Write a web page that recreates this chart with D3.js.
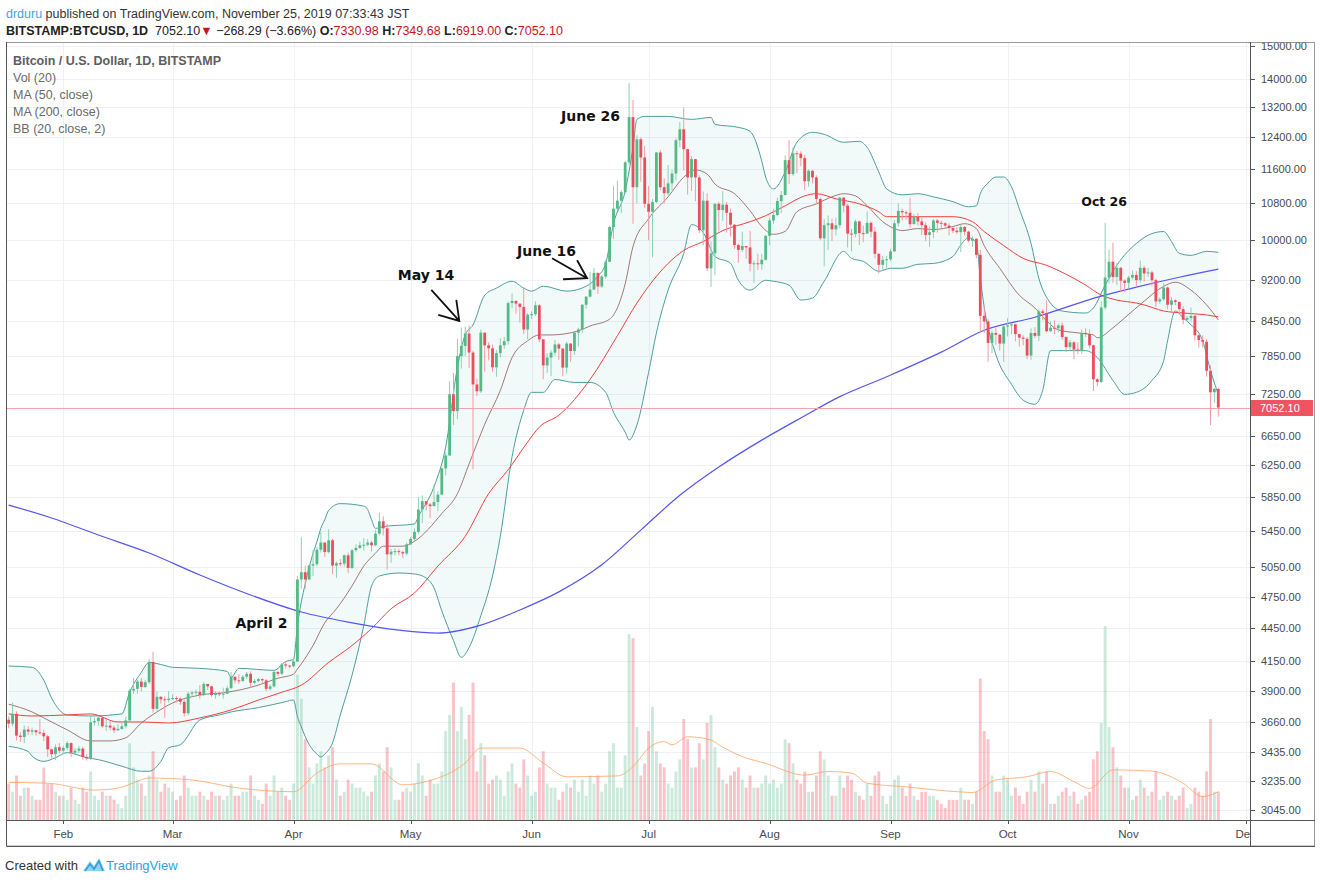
<!DOCTYPE html>
<html><head><meta charset="utf-8">
<script src="https://cdn.jsdelivr.net/npm/d3@7"></script>
<style>
body{margin:0;background:#fff;}
svg{display:block;}
text{font-family:"Liberation Sans",Arial,sans-serif;white-space:pre;}
.ann{font-family:"DejaVu Sans",Verdana,sans-serif;font-weight:bold;fill:#111;}
</style>
</head><body>
<svg id="chart" width="1320" height="883"></svg>
<script>
// ---------------- DATA ----------------
const startDate = "2019-01-18";
const opens = [
3675,3645,3720,3555,3545,3600,3585,3595,3580,3575,3550,3455,3420,3470,
3445,3465,3500,3430,3445,3460,3400,3390,3655,3665,3690,3625,3630,3615,3595,3605,3625,3670,3905,3920,3980,3935,3975,4145,3760,3855,3835,3830,
3840,3845,3840,3815,3725,3880,3890,3895,3870,3960,3940,3870,3885,3875,3880,3925,4020,3990,3985,4020,4045,3970,3985,4000,3990,3920,3940,4060,4045,4125,4115,
4110,4150,4925,5000,4925,5070,5085,5240,5320,5215,5345,5070,5095,5090,5180,5045,5235,5260,5290,5295,5320,5290,5420,5560,5480,5190,5220,5225,5215,5200,
5300,5360,5440,5700,5800,5760,5740,5790,5880,6210,6380,7250,7000,7850,8020,8230,7910,7400,7295,8245,8030,7980,7670,7900,8030,8100,8770,8810,8760,8700,8300,
8560,8570,8730,8130,7700,7826,7908,8045,7975,7665,8060,7935,8245,8300,8740,8890,9020,9340,9080,9270,9560,10280,10680,10860,11055,11765,12930,11170,12346,11885,
10790,10612,10830,12010,11170,11030,11260,11495,12321,12605,12093,11400,11845,11400,10210,10860,9430,9730,10790,10650,10770,10590,10330,9900,9800,9880,9850,9520,9530,9510,9600,
10090,10420,10540,10850,10990,11820,11480,11990,11980,11870,11310,11560,11400,10900,10040,10320,10360,10230,10320,10930,10750,10140,10130,10400,10150,10140,10370,10180,9720,9500,9600,
9610,9770,10360,10630,10600,10590,10340,10500,10400,10320,10110,10170,10420,10370,10360,10310,10260,10200,10170,10280,10180,9990,10030,9700,8540,8440,8070,8240,8210,8060,
8350,8370,8390,8220,8160,8140,7860,8240,8190,8620,8590,8270,8330,8320,8370,8170,8000,8080,7960,7950,8240,8220,8030,7480,7440,8690,9250,9560,9260,9440,9190,
9150,9250,9300,9200,9440,9330,9350,9200,8800,8840,9060,8740,8820,8790,8660,8470,8500,8540,8200,8120,8090,7615,7280,7330.98
];
const highs = [
3700,3810,3740,3580,3630,3625,3615,3600,3680,3600,3560,3460,3490,3500,
3480,3515,3505,3465,3480,3475,3420,3720,3690,3700,3700,3680,3665,3630,3640,3655,3700,3920,4010,3995,4010,3995,4170,4235,3900,3860,3860,3900,
3875,3860,3850,3830,3895,3905,3915,3950,3975,3960,3945,3900,3895,3930,3945,4060,4020,4040,4035,4060,4065,4000,4010,4005,4000,3955,4070,4070,4135,4150,4120,
4170,4960,5380,5070,5080,5240,5270,5440,5320,5470,5360,5115,5140,5190,5210,5250,5300,5330,5370,5360,5340,5460,5660,5620,5530,5250,5260,5250,5230,5320,
5380,5480,5850,5870,5800,5780,6000,5920,6220,6420,7450,7580,8140,8330,8350,8370,7940,7490,8300,8245,8080,8040,7950,8150,8170,8800,8950,8820,8760,9070,8590,
8620,8800,8750,8130,7900,7950,8120,8070,7985,8090,8060,8250,8330,8750,8890,9360,9440,9350,9300,9600,10300,11200,11320,11100,11800,13880,13400,12450,12400,12180,
11200,10900,12020,12070,11380,11700,11580,12370,12800,13200,12100,11920,11850,11450,11070,11030,9980,10800,10830,11080,10830,10680,10340,9930,10180,9880,10200,9580,9720,9720,10110,
10480,10680,10930,11080,11940,12320,12140,12050,12040,11950,11590,11570,11450,10930,10450,10530,10460,10480,10950,10950,10790,10240,10440,10420,10310,10620,10400,10280,9730,9680,9680,
9820,10430,10800,10680,10640,10920,10560,10580,10490,10380,10290,10450,10450,10420,10380,10360,10270,10280,10330,10300,10200,10080,10040,9800,8720,8480,8280,8330,8220,8380,
8500,8400,8400,8220,8200,8170,8320,8340,8660,8660,8820,8440,8460,8400,8420,8180,8120,8100,8080,8300,8320,8300,8040,7500,8800,10370,9800,9950,9530,9460,9220,
9280,9390,9380,9580,9480,9440,9380,9230,8880,9140,9080,8880,8840,8800,8710,8540,8690,8560,8220,8200,8130,7700,7350,7349.68
];
const lows = [
3610,3625,3520,3510,3500,3560,3560,3555,3560,3515,3400,3390,3380,3425,
3420,3450,3400,3415,3430,3380,3375,3380,3630,3630,3610,3590,3595,3575,3590,3600,3610,3660,3880,3880,3900,3925,3960,3730,3745,3800,3690,3810,
3830,3810,3790,3700,3710,3850,3870,3840,3860,3910,3855,3840,3860,3840,3875,3920,3965,3960,3975,4000,3930,3960,3975,3965,3900,3905,3930,4025,4035,4090,4090,
4100,4145,4830,4830,4920,4960,5060,5210,5160,5200,4980,4940,5065,5060,4990,5035,5220,5250,5230,5280,5220,5280,5400,5400,5030,5100,5180,5180,5150,5180,
5290,5340,5420,5540,5690,5600,5740,5680,5870,6120,6380,6800,6880,7650,7850,7660,6200,7220,7270,7600,7780,7600,7520,7830,7970,8040,8680,8580,8420,8220,8130,
8480,8540,8080,7480,7580,7530,7860,7790,7530,7570,7760,7870,8010,8240,8670,8870,9020,8940,9050,9230,9560,10030,10630,10580,11030,11700,10350,10800,11300,10700,
10000,9650,10800,11100,10800,10990,11100,11330,12140,11570,11000,11080,10850,10150,9900,9380,9070,9300,10190,10410,10160,10080,9820,9540,9760,9620,9370,9150,9400,9400,9580,
9900,10340,10510,10580,10980,11250,11440,11500,11670,11100,11180,11260,10800,10000,9470,9800,9980,10100,10260,10600,9850,9770,10060,9900,9960,10130,10060,9630,9330,9380,9440,
9570,9760,10290,10420,10430,10260,10340,10310,10110,9980,9860,10040,10160,10260,10270,10100,10150,10130,9760,10100,9960,9860,9630,8240,8240,7760,7900,8040,7940,7760,
8180,8220,8100,8010,8030,7800,7790,8150,8100,8460,8250,8260,8220,8250,8120,7920,7960,7800,7880,7890,8170,7980,7300,7370,7420,8650,9140,9150,9110,8980,8980,
9040,9210,9080,9150,9170,9260,9090,8700,8760,8810,8660,8610,8730,8580,8390,8450,8440,8110,7990,7990,7520,6800,7120,6919.00
];
const closes = [
3645,3720,3555,3545,3600,3585,3595,3580,3575,3550,3455,3420,3470,3445,
3465,3500,3430,3445,3460,3400,3390,3655,3665,3690,3625,3630,3615,3595,3605,3625,3670,3905,3920,3980,3935,3975,4145,3760,3855,3835,3830,3840,
3845,3840,3815,3725,3880,3890,3895,3870,3960,3940,3870,3885,3875,3880,3925,4020,3990,3985,4020,4045,3970,3985,4000,3990,3920,3940,4060,4045,4125,4115,4110,
4150,4925,5000,4925,5070,5085,5240,5320,5215,5345,5070,5095,5090,5180,5045,5235,5260,5290,5295,5320,5290,5420,5560,5480,5190,5220,5225,5215,5200,5300,
5360,5440,5700,5800,5760,5740,5790,5880,6210,6380,7250,7000,7850,8020,8230,7910,7400,7295,8245,8030,7980,7670,7900,8030,8100,8770,8810,8760,8700,8300,8560,
8570,8730,8130,7700,7826,7908,8045,7975,7665,8060,7935,8245,8300,8740,8890,9020,9340,9080,9270,9560,10280,10680,10860,11055,11765,12930,11170,12346,11885,10790,
10612,10830,12010,11170,11030,11260,11495,12321,12605,12093,11400,11845,11400,10210,10860,9430,9730,10790,10650,10770,10590,10330,9900,9800,9880,9850,9520,9530,9510,9600,10090,
10420,10540,10850,10990,11820,11480,11990,11980,11870,11310,11560,11400,10900,10040,10320,10360,10230,10320,10930,10750,10140,10130,10400,10150,10140,10370,10180,9720,9500,9600,9610,
9770,10360,10630,10600,10590,10340,10500,10400,10320,10110,10170,10420,10370,10360,10310,10260,10200,10170,10280,10180,9990,10030,9700,8540,8440,8070,8240,8210,8060,8350,
8370,8390,8220,8160,8140,7860,8240,8190,8620,8590,8270,8330,8320,8370,8170,8000,8080,7960,7950,8240,8220,8030,7480,7440,8690,9250,9560,9260,9440,9190,9150,
9250,9300,9200,9440,9330,9350,9200,8800,8840,9060,8740,8820,8790,8660,8470,8500,8540,8200,8120,8090,7615,7280,7330.98,7052.10
];
// volume, thousands of BTC
const volumes = [
9,7,11,6,8,8,6,5,5,13,9,9,7,6,
6,5,8,5,4,8,7,12,6,5,7,6,6,5,4,3,6,19,13,10,9,6,11,17,10,7,9,8,
7,5,6,11,8,6,6,7,6,5,7,6,6,5,6,9,6,6,7,7,11,6,5,4,9,6,11,7,8,6,5,
9,36,30,20,13,9,14,17,13,16,18,10,6,7,10,9,8,8,7,6,7,11,14,12,18,13,5,5,7,8,
7,9,14,11,6,10,9,9,12,22,26,34,22,28,20,26,34,12,19,16,9,10,11,10,6,12,14,9,8,15,11,
6,7,13,17,9,8,8,5,7,9,8,10,7,10,6,11,9,11,7,9,17,19,8,8,16,46,45,23,11,14,
22,28,17,14,13,9,8,12,15,25,20,13,13,19,15,24,26,18,13,10,9,11,12,13,10,8,11,8,8,9,11,
9,10,8,9,20,19,14,10,9,12,7,7,11,17,15,11,6,6,11,8,11,10,7,6,5,9,6,11,12,6,4,
6,10,11,8,6,9,6,5,7,7,6,6,5,4,3,5,5,5,8,5,5,4,7,35,22,20,11,7,7,11,
10,6,8,6,4,7,10,7,12,9,12,4,4,6,7,8,6,7,4,5,6,7,15,17,24,48,23,18,13,11,8,
8,5,6,10,8,6,7,12,5,6,7,6,5,6,8,3,4,8,7,6,12,25,7,7
];
// indicator lines: [MM-DD (2019), value]
const bbUpper = [["01-18",4111],["01-24",4100],["01-27",3991],["01-29",3845],["02-02",3712],["02-08",3704],["02-16",3720],["02-18",3892],["02-21",4057],["02-23",4142],["02-26",4124],["03-01",4100],["03-08",4091],["03-15",4065],["03-16",4015],["03-18",4091],["03-27",4074],["03-30",4150],["04-01",4168],["04-02",4470],["04-03",4700],["04-04",4880],["04-05",5050],["04-06",5200],["04-07",5330],["04-08",5480],["04-09",5580],["04-10",5690],["04-13",5770],["04-19",5740],["04-20",5700],["04-21",5580],["04-22",5480],["04-24",5500],["05-02",5530],["05-03",5618],["05-07",5978],["05-10",6495],["05-13",7666],["05-15",8206],["05-17",8379],["05-20",8916],["05-23",9048],["05-27",9179],["05-30",9048],["06-01",8991],["06-04",9085],["06-10",8991],["06-15",9085],["06-18",9276],["06-20",9527],["06-22",10351],["06-25",11084],["06-27",12140],["06-28",12869],["06-30",12950],["07-06",12950],["07-12",12869],["07-17",12923],["07-18",12736],["07-24",12657],["07-27",12552],["07-30",11796],["07-31",11410],["08-02",11131],["08-05",11529],["08-08",12269],["08-12",12527],["08-15",12474],["08-20",12269],["08-24",12294],["08-26",12140],["08-29",11529],["08-31",11131],["09-04",10993],["09-08",11020],["09-12",10947],["09-17",10839],["09-21",10723],["09-23",10746],["09-24",11020],["09-26",11270],["09-28",11410],["09-30",11410],["10-02",11178],["10-04",10679],["10-07",9933],["10-09",9237],["10-12",8770],["10-15",8626],["10-21",8590],["10-23",8681],["10-26",9106],["10-29",9493],["11-03",9933],["11-07",10140],["11-10",10183],["11-12",9974],["11-14",9729],["11-17",9689],["11-21",9770],["11-24",9750]];
const bbBasis = [["01-18",3796],["01-24",3735],["01-27",3689],["02-02",3598],["02-08",3516],["02-13",3516],["02-17",3539],["02-21",3650],["02-25",3735],["03-01",3806],["03-08",3869],["03-15",3892],["03-23",3950],["03-28",4008],["04-01",4041],["04-02",4085],["04-03",4130],["04-06",4291],["04-09",4499],["04-12",4633],["04-16",4859],["04-19",5065],["04-22",5202],["04-24",5279],["04-29",5279],["05-02",5334],["05-09",5652],["05-13",5891],["05-16",6269],["05-20",6810],["05-24",7309],["05-27",7826],["05-31",8106],["06-03",8206],["06-06",8206],["06-13",8276],["06-16",8361],["06-21",8480],["06-25",9130],["06-27",9868],["07-01",10460],["07-06",10948],["07-10",11408],["07-13",11580],["07-16",11481],["07-18",11245],["07-23",11020],["07-27",10634],["07-30",10290],["08-02",10124],["08-05",10187],["08-08",10612],["08-13",10788],["08-17",10948],["08-20",11020],["08-23",10970],["08-26",10746],["08-30",10394],["09-02",10246],["09-04",10203],["09-08",10246],["09-12",10225],["09-17",10290],["09-20",10351],["09-23",10246],["09-25",9889],["09-29",9431],["10-04",8916],["10-08",8681],["10-11",8450],["10-14",8293],["10-19",8241],["10-23",8206],["10-24",8157],["10-28",8328],["10-31",8503],["11-05",8806],["11-10",9083],["11-13",9160],["11-17",9010],["11-21",8736],["11-24",8468]];
const bbLower = [["01-18",3476],["01-23",3439],["01-24",3405],["01-27",3369],["01-30",3395],["02-02",3431],["02-07",3395],["02-10",3381],["02-16",3335],["02-21",3300],["02-23",3300],["02-26",3369],["02-28",3466],["03-03",3488],["03-08",3673],["03-13",3712],["03-16",3735],["03-23",3769],["03-30",3816],["04-01",3830],["04-02",3700],["04-03",3620],["04-05",3490],["04-07",3420],["04-08",3400],["04-09",3420],["04-11",3502],["04-13",3712],["04-16",4033],["04-19",4473],["04-21",4859],["04-23",4961],["04-28",4992],["05-02",4982],["05-05",4940],["05-07",4839],["05-09",4613],["05-12",4335],["05-14",4186],["05-16",4273],["05-19",4566],["05-22",4961],["05-24",5390],["05-27",6362],["05-30",7012],["06-01",7279],["06-04",7279],["06-07",7477],["06-12",7431],["06-16",7431],["06-20",7279],["06-22",6983],["06-25",6699],["06-26",6590],["06-28",6798],["07-01",7587],["07-03",8241],["07-06",9010],["07-10",9729],["07-12",10331],["07-15",10160],["07-18",9668],["07-22",9527],["07-24",9198],["07-27",9010],["07-31",9198],["08-02",9179],["08-06",9104],["08-09",8826],["08-12",8862],["08-15",9179],["08-20",9769],["08-22",9628],["08-25",9568],["08-29",9372],["09-01",9431],["09-04",9431],["09-08",9510],["09-12",9527],["09-17",9668],["09-19",9900],["09-21",10050],["09-23",9950],["09-24",9250],["09-25",8700],["09-28",7875],["10-02",7401],["10-05",7160],["10-08",7100],["10-10",7309],["10-12",7941],["10-15",7941],["10-21",7941],["10-24",7826],["10-28",7462],["10-31",7249],["11-03",7279],["11-07",7462],["11-10",7777],["11-11",8106],["11-13",8627],["11-15",8503],["11-17",8381],["11-20",8106],["11-22",7618],["11-24",7249]];
const ma50 = [["01-18",3720],["01-24",3704],["02-02",3712],["02-08",3720],["02-15",3658],["02-21",3658],["02-28",3650],["03-08",3689],["03-16",3751],["03-23",3829],["03-29",3892],["04-03",3950],["04-10",4142],["04-16",4291],["04-21",4445],["04-26",4633],["05-02",4788],["05-08",5065],["05-15",5390],["05-21",5891],["05-26",6192],["05-31",6562],["06-03",6770],["06-08",6940],["06-16",7477],["06-23",8192],["06-28",8770],["07-01",9083],["07-06",9527],["07-10",9789],["07-15",9973],["07-20",10203],["07-27",10394],["07-31",10525],["08-05",10746],["08-10",10970],["08-13",11020],["08-18",10903],["08-24",10788],["08-29",10612],["08-31",10503],["09-08",10503],["09-17",10503],["09-22",10394],["09-25",10183],["09-30",9889],["10-05",9628],["10-11",9490],["10-16",9314],["10-21",9106],["10-25",8916],["10-29",8826],["11-03",8770],["11-05",8736],["11-10",8627],["11-15",8590],["11-21",8556],["11-24",8521]];
const ma200 = [["01-18",5753],["01-29",5600],["02-10",5404],["02-23",5205],["03-08",4971],["03-21",4768],["04-03",4602],["04-15",4506],["04-28",4431],["05-08",4403],["05-19",4477],["05-29",4621],["06-08",4799],["06-19",5078],["06-29",5460],["07-09",5872],["07-19",6229],["07-30",6588],["08-09",6900],["08-19",7214],["08-31",7520],["09-14",7917],["09-25",8287],["10-08",8514],["10-25",8898],["11-03",9066],["11-14",9256],["11-24",9413]];
const volMA = [["01-18",9.3],["01-28",9.1],["02-09",7.4],["02-15",7.9],["02-19",9.2],["02-23",10.4],["03-06",9.9],["03-18",7.9],["04-01",7.0],["04-07",11.6],["04-13",13.9],["04-21",13.9],["04-29",8.7],["05-05",9.5],["05-15",14.1],["05-19",17.8],["05-29",17.8],["06-04",14.1],["06-10",10.7],["06-23",10.9],["06-27",13.2],["07-01",17.8],["07-05",19.4],["07-07",18.6],["07-11",20.6],["07-17",19.8],["07-19",18.6],["07-25",15.7],["07-31",14.0],["08-10",11.1],["08-16",12.0],["08-22",11.6],["08-26",9.1],["09-05",8.2],["09-18",7.0],["09-22",6.8],["09-28",9.9],["10-06",10.7],["10-12",12.0],["10-18",9.5],["10-22",7.8],["10-28",12.4],["11-07",12.1],["11-15",9.1],["11-20",5.8],["11-24",7.0]];

const priceTicks = [15000,14000,13200,12400,11600,10800,10000,9200,8450,7850,7250,6650,6250,5850,5450,5050,4750,4450,4150,3900,3660,3435,3235,3045];
const monthTicks = ["02-01","03-01","04-01","05-01","06-01","07-01","08-01","09-01","10-01","11-01","12-01"];
const monthLabels = ["Feb","Mar","Apr","May","Jun","Jul","Aug","Sep","Oct","Nov","Dec"];
const lastPrice = 7052.10;
const annotations = [
  {text:"April 2", date:"04-02", price:4455},
  {text:"May 14", date:"05-14", price:9198},
  {text:"June 16", date:"06-16", price:9668},
  {text:"June 26", date:"06-26", price:12815},
  {text:"Oct 26", date:"10-26", price:10746}
];
const arrows = [{date:"05-14", price:8450}, {date:"06-16", price:9237}];
const legendTitle = "Bitcoin / U.S. Dollar, 1D, BITSTAMP";
const legendItems = ["Vol (20)","MA (50, close)","MA (200, close)","BB (20, close, 2)"];

// ---------------- CHART ----------------
const svg = d3.select("#chart");
const P = {left:7, top:42, right:1250, bottom:820, outerRight:1315, outerBottom:846};
const parse = s => new Date(Date.UTC(2019, +s.slice(0,2)-1, +s.slice(3,5)));
const t0 = new Date(startDate + "T00:00:00Z");
const dates = closes.map((_, i) => d3.utcDay.offset(t0, i));
const x = d3.scaleUtc().domain([dates[0], dates[dates.length-1]]).range([8.67, 1218.3]);
const y = d3.scaleLog().domain([3045, 15000]).range([809.8, 46]);
const vy = d3.scaleLinear().domain([0, 48]).range([P.bottom, 626]);

const defs = svg.append("defs");
defs.append("clipPath").attr("id","plotClip").append("rect")
  .attr("x",P.left).attr("y",P.top).attr("width",P.right-P.left).attr("height",P.bottom-P.top);
defs.append("clipPath").attr("id","paxClip").append("rect")
  .attr("x",P.right).attr("y",P.top+0.5).attr("width",P.outerRight-P.right).attr("height",P.bottom-P.top);
defs.append("clipPath").attr("id","taxClip").append("rect")
  .attr("x",P.left).attr("y",P.bottom).attr("width",P.right-P.left).attr("height",P.outerBottom-P.bottom);

const plot = svg.append("g").attr("clip-path","url(#plotClip)");

// grid
plot.append("g").selectAll("line").data(priceTicks).join("line")
  .attr("x1",P.left).attr("x2",P.right)
  .attr("y1",d=>Math.round(y(d))+0.5).attr("y2",d=>Math.round(y(d))+0.5)
  .attr("stroke","#eef1f6").attr("stroke-width",1);
plot.append("g").selectAll("line").data(monthTicks).join("line")
  .attr("x1",d=>Math.round(x(parse(d)))+0.5).attr("x2",d=>Math.round(x(parse(d)))+0.5)
  .attr("y1",P.top).attr("y2",P.bottom)
  .attr("stroke","#eef1f6").attr("stroke-width",1);

const pt = d => [x(parse(d[0])), y(d[1])];
const lineGen = d3.line().curve(d3.curveMonotoneX);

// Bollinger fill
const upD = lineGen(bbUpper.map(pt));
const loRev = lineGen(bbLower.map(pt).reverse());
plot.append("path").attr("d", upD + "L" + loRev.slice(1) + "Z")
  .attr("fill","#1a8a8a").attr("fill-opacity",0.055).attr("stroke","none");

// volume
plot.append("g").selectAll("rect").data(volumes).join("rect")
  .attr("x",(d,i)=>x(dates[i])-1.45).attr("width",2.9)
  .attr("y",d=>vy(d)).attr("height",d=>P.bottom-vy(d))
  .attr("fill",(d,i)=>closes[i]>=opens[i]?"#53b987":"#eb4d5c")
  .attr("fill-opacity",(d,i)=>closes[i]>=opens[i]?0.3:0.33);
plot.append("path").attr("d", d3.line().curve(d3.curveMonotoneX)(volMA.map(d=>[x(parse(d[0])), vy(d[1])])))
  .attr("fill","none").attr("stroke","#ff9d5c").attr("stroke-opacity",0.75).attr("stroke-width",1);

// Bollinger lines
plot.append("path").attr("d",upD).attr("fill","none").attr("stroke","#4f9d9d").attr("stroke-width",1);
plot.append("path").attr("d",lineGen(bbLower.map(pt))).attr("fill","none").attr("stroke","#4f9d9d").attr("stroke-width",1);
plot.append("path").attr("d",lineGen(bbBasis.map(pt))).attr("fill","none").attr("stroke","#94605e").attr("stroke-opacity",0.85).attr("stroke-width",1);

// moving averages
plot.append("path").attr("d",lineGen(ma50.map(pt))).attr("fill","none").attr("stroke","#f0413d").attr("stroke-width",1);
plot.append("path").attr("d",lineGen(ma200.map(pt))).attr("fill","none").attr("stroke","#5555f2").attr("stroke-width",1.2);

// last price line
plot.append("line").attr("x1",P.left).attr("x2",P.right)
  .attr("y1",Math.round(y(lastPrice))+0.5).attr("y2",Math.round(y(lastPrice))+0.5)
  .attr("stroke","#f3a3aa").attr("stroke-width",1);

// candles
const up = i => closes[i] >= opens[i];
const cg = plot.append("g");
cg.selectAll("line").data(closes).join("line")
  .attr("x1",(d,i)=>x(dates[i])).attr("x2",(d,i)=>x(dates[i]))
  .attr("y1",(d,i)=>y(highs[i])).attr("y2",(d,i)=>y(lows[i]))
  .attr("stroke",(d,i)=>up(i)?"#8fd0b4":"#f39aa3").attr("stroke-width",1);
cg.selectAll("rect").data(closes).join("rect")
  .attr("x",(d,i)=>x(dates[i])-1.4).attr("width",2.8)
  .attr("y",(d,i)=>y(Math.max(opens[i],closes[i])))
  .attr("height",(d,i)=>Math.max(1, y(Math.min(opens[i],closes[i]))-y(Math.max(opens[i],closes[i]))))
  .attr("fill",(d,i)=>up(i)?"#53b987":"#eb4d5c");

// annotations
const annLayout = {"April 2":{anchor:"end",dx:-10,size:14},"May 14":{anchor:"end",dx:-7,size:14},
  "June 16":{anchor:"end",dx:-14,size:14},"June 26":{anchor:"end",dx:-9,size:14},"Oct 26":{anchor:"middle",dx:-1,size:12.5}};
svg.append("g").selectAll("text").data(annotations).join("text").attr("class","ann")
  .attr("x",d=>x(parse(d.date))+annLayout[d.text].dx).attr("y",d=>y(d.price))
  .attr("text-anchor",d=>annLayout[d.text].anchor).attr("font-size",d=>annLayout[d.text].size)
  .text(d=>d.text);
const arrowShapes = {"05-14":{dx:-2, tail:[-28,-31], h1:[-21,-6], h2:[-3,-21]},
                     "06-16":{dx:-3, tail:[-35,-20], h1:[-24,1], h2:[-10,-18]}};
arrows.forEach(a=>{
  const s = arrowShapes[a.date];
  const tx = x(parse(a.date))+s.dx, ty = y(a.price);
  const p = d3.path();
  p.moveTo(tx+s.tail[0], ty+s.tail[1]); p.lineTo(tx,ty);
  p.moveTo(tx+s.h1[0], ty+s.h1[1]); p.lineTo(tx,ty); p.lineTo(tx+s.h2[0], ty+s.h2[1]);
  svg.append("path").attr("d",p.toString()).attr("fill","none").attr("stroke","#111").attr("stroke-width",1.8);
});

// legend
const lg = svg.append("g");
lg.append("text").attr("x",13).attr("y",65).attr("font-size",12.5).attr("font-weight","bold").attr("fill","#5d5d5d").text(legendTitle);
lg.selectAll("text.li").data(legendItems).join("text").attr("class","li")
  .attr("x",13).attr("y",(d,i)=>82+i*17).attr("font-size",12.5).attr("fill","#6a6a6a").text(d=>d);

// frame
const fr = svg.append("g").attr("stroke","#6f6f6f").attr("stroke-width",1).attr("fill","none");
fr.append("rect").attr("x",P.left-0.5).attr("y",P.top+0.5).attr("width",P.outerRight-P.left).attr("height",P.outerBottom-P.top-0.5).attr("stroke","#9a9a9a");
fr.append("line").attr("x1",P.left-0.5).attr("x2",P.outerRight).attr("y1",P.bottom+0.5).attr("y2",P.bottom+0.5).attr("stroke","#555");
fr.append("line").attr("x1",P.left-0.5).attr("x2",P.outerRight).attr("y1",P.outerBottom+0.5).attr("y2",P.outerBottom+0.5).attr("stroke","#555");
fr.append("line").attr("x1",P.right+0.5).attr("x2",P.right+0.5).attr("y1",P.top).attr("y2",P.outerBottom).attr("stroke","#555");
fr.append("line").attr("x1",P.left-0.5).attr("x2",P.left-0.5).attr("y1",P.top).attr("y2",P.outerBottom).attr("stroke","#555");

// price axis
const pax = svg.append("g").attr("clip-path","url(#paxClip)");
pax.selectAll("line").data(priceTicks).join("line")
  .attr("x1",P.right).attr("x2",P.right+5).attr("y1",d=>Math.round(y(d))+0.5).attr("y2",d=>Math.round(y(d))+0.5)
  .attr("stroke","#555");
pax.selectAll("text").data(priceTicks).join("text")
  .attr("x",P.right+11).attr("y",d=>y(d)+4).attr("font-size",11).attr("fill","#4a4a4a")
  .text(d=>d3.format(".2f")(d));
const ly = Math.round(y(lastPrice));
svg.append("rect").attr("x",P.right+1).attr("y",ly-8).attr("width",62).attr("height",16).attr("fill","#ef5461");
svg.append("text").attr("x",P.right+10).attr("y",ly+4).attr("font-size",11).attr("fill","#fff").text(d3.format(".2f")(lastPrice));

// time axis
const tax = svg.append("g").attr("clip-path","url(#taxClip)");
tax.selectAll("line").data(monthTicks).join("line")
  .attr("x1",d=>Math.round(x(parse(d)))+0.5).attr("x2",d=>Math.round(x(parse(d)))+0.5)
  .attr("y1",P.bottom).attr("y2",P.bottom+4).attr("stroke","#555");
tax.selectAll("text").data(monthTicks).join("text")
  .attr("x",d=>x(parse(d))).attr("y",838).attr("text-anchor","middle")
  .attr("font-size",11.5).attr("fill","#4a4a4a").text((d,i)=>monthLabels[i]);

// header
const h1 = svg.append("text").attr("x",6).attr("y",18).attr("font-size",12.5).attr("fill","#333");
h1.append("tspan").attr("fill","#3aa8e2").text("drduru");
h1.append("tspan").text(" published on TradingView.com, November 25, 2019 07:33:43 JST");
const h2 = svg.append("text").attr("x",6).attr("y",35).attr("font-size",12.5).attr("fill","#222");
const red = "#c2181f";
[["BITSTAMP:BTCUSD, 1D","bold",null],["  7052.10","normal",null],["▼","normal",red],[" −268.29 (−3.66%) ","normal",null],
 ["O:","bold",null],["7330.98","normal",red],[" H:","bold",null],["7349.68","normal",red],
 [" L:","bold",null],["6919.00","normal",red],[" C:","bold",null],["7052.10","normal",red]]
 .forEach(([t,w,c])=>{ const s=h2.append("tspan").attr("font-weight",w).text(t); if(c) s.attr("fill",c); });

// footer
svg.append("text").attr("x",5).attr("y",870).attr("font-size",13).attr("fill","#333").text("Created with");
svg.append("path").attr("d","M83,871 L90,861 L94,866 L99,858 L105,871 Z").attr("fill","#8fd3f3");
svg.append("path").attr("d","M85,871 L90,864 L94,869 L99,861 L103,871").attr("fill","none").attr("stroke","#2e9fe0").attr("stroke-width",1.6);
svg.append("text").attr("x",106).attr("y",870).attr("font-size",13).attr("fill","#2e9fe0").text("TradingView");
</script>
</body></html>
